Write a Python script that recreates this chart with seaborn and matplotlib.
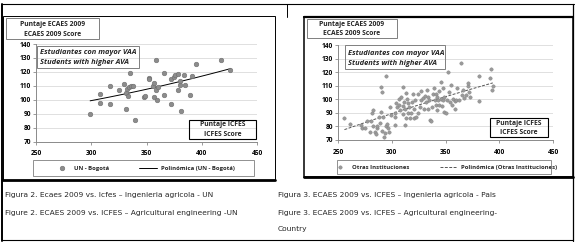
import numpy as np
import pandas as pd
import matplotlib
matplotlib.use("Agg")
import matplotlib.pyplot as plt
from matplotlib.patches import Rectangle
from matplotlib.lines import Line2D
import seaborn as sns

# ---------------- data ----------------
un_icfes = [299, 308, 308, 317, 317, 325.5, 330, 331, 332, 334, 335, 331.5, 336, 338, 333,
            340, 348, 349, 352, 352.5, 355.5, 358.5, 357, 359, 357, 359.5, 360.5, 366, 366,
            372, 372.5, 374.5, 376, 378.5, 378.5, 380, 380, 381.5, 383.5, 385, 389, 391.5,
            395, 417.5, 426]
un_ecaes = [90, 104, 98, 97, 110, 107, 111, 104.5, 108, 109, 119, 93, 110, 110, 103,
            85.5, 102, 103, 115.5, 115, 110, 128.5, 112, 107, 102, 100, 109, 103.5, 119.5,
            97, 115, 116.5, 118, 118.5, 107, 110.5, 113.5, 92, 117.5, 110.5, 103.5, 117,
            125.5, 128.5, 121]

ot_icfes = [256, 261, 271, 272, 275, 277, 279.5, 280.5, 281.5, 282.6, 283, 284, 285, 286,
            286.5, 288, 289, 289.6, 290, 290.5, 291, 292, 293, 294, 295, 295, 296, 296.5,
            297.5, 298, 299.5, 302.6, 302.6, 303, 304, 305, 306.6, 307, 308, 309, 310,
            310.4, 310.4, 311, 312, 312, 313, 313.5, 314.4, 315, 315, 316, 317, 318, 319,
            319.7, 320.6, 321, 322, 323, 324, 324.3, 326, 327, 327.4, 329, 330, 330.5, 332,
            333, 333.6, 334, 335, 336, 336.7, 337, 338, 339, 340, 340.7, 341.3, 342, 342,
            343, 343.6, 344.4, 345.4, 346, 346.6, 347.5, 348, 348.5, 349, 350.6, 351.5, 352,
            353.7, 354.6, 355, 356, 357, 358.4, 359, 360, 361, 363, 364.5, 365, 366, 367.6,
            369, 370.7, 370.7, 372, 373, 381.6, 381.6, 391, 392.5, 393, 394]
ot_ecaes = [86, 82, 81, 79, 78.6, 84, 76, 84, 89.6, 92, 80.5, 76, 74.4, 78.6,
            80, 86.7, 82.8, 91, 109, 105.6, 77, 86.7, 72, 75, 80, 117, 82, 79,
            76, 94, 88.4, 86.7, 81, 89.6, 97, 94.6, 100.5, 96, 92, 102, 95,
            89, 109, 98, 93, 81, 86, 105, 100, 97, 89.6, 94.6, 86, 89.6, 98,
            104, 86, 93, 99.5, 87, 90, 104, 94.6, 99.5, 106, 101, 93, 102.6, 98,
            107, 102, 93, 99.5, 85, 84, 94, 104, 108, 99.5, 96, 104, 102, 92,
            99.5, 106, 96, 100, 113, 95, 99.5, 108, 91, 102, 89.6, 99.5, 120,
            105.6, 98, 110.5, 96, 100.5, 99, 93, 99.5, 108, 99.5, 126.5, 103, 107, 100.7,
            103, 110, 112, 105.6, 102, 117, 99, 115.5, 122, 107, 109.5]

x_ticks = [250, 300, 350, 400, 450]
y_ticks = [70, 80, 90, 100, 110, 120, 130, 140]

un_label = "UN - Bogotá"
un_trend_label = "Polinómica (UN - Bogotá)"
ot_label = "Otras Instituciones"
ot_trend_label = "Polinómica (Otras Instituciones)"
title_lines = ["Puntaje ECAES 2009", "ECAES 2009 Score"]
note_lines = ["Estudiantes con mayor VAA", "Students with higher AVA"]
xlab_lines = ["Puntaje ICFES", "ICFES Score"]
captions_left = ["Figura 2. Ecaes 2009 vs. Icfes – Ingenieria agricola - UN",
                 "Figure 2. ECAES 2009 vs. ICFES – Agricultural engineering -UN"]
captions_right = ["Figura 3. ECAES 2009 vs. ICFES – Ingenieria agricola - Pais",
                  "Figure 3. ECAES 2009 vs. ICFES – Agricultural engineering-",
                  "Country"]

# ---------------- style ----------------
sns.set_theme(style="white")
plt.rcParams['font.family'] = ['Open Sans', 'DejaVu Sans']

W, H = 577, 242
fig = plt.figure(figsize=(W / 100, H / 100), dpi=100)
fig.patch.set_facecolor("white")


def fx(x):
    return x / W


def fy(y):
    return 1 - y / H


def rect(x0, y0, x1, y1, lw=0.8, ec="black"):
    fig.add_artist(Rectangle((fx(x0), fy(y1)), (x1 - x0) / W, (y1 - y0) / H,
                             transform=fig.transFigure, fill=False, lw=lw, ec=ec))


def line(x0, y0, x1, y1, lw=0.8, color="black"):
    fig.add_artist(Line2D([fx(x0), fx(x1)], [fy(y0), fy(y1)],
                          transform=fig.transFigure, lw=lw, color=color))


def add_axes(x0, x1, ytop, ybot):
    return fig.add_axes([fx(x0), fy(ybot), (x1 - x0) / W, (ybot - ytop) / H])


def style_axes(ax):
    ax.set_xlim(250, 450)
    ax.set_ylim(70, 140)
    ax.set_xticks(x_ticks)
    ax.set_yticks(y_ticks)
    ax.set_xticklabels([str(t) for t in x_ticks])
    ax.set_yticklabels([str(t) for t in y_ticks])
    ax.set_facecolor("white")
    ax.yaxis.grid(True, color="#dadada", lw=0.6)
    ax.xaxis.grid(False)
    ax.set_axisbelow(True)
    for s in ["top", "right"]:
        ax.spines[s].set_visible(False)
    for s in ["left", "bottom"]:
        ax.spines[s].set_color("#8a8a8a")
        ax.spines[s].set_linewidth(0.7)
    ax.tick_params(axis="both", which="both", direction="out", length=2,
                   width=0.6, color="#8a8a8a", labelsize=4.8, colors="black")
    ax.tick_params(axis="x", pad=4.2)
    ax.tick_params(axis="y", pad=1.5)
    ax.tick_params(axis="both", left=True, bottom=True)
    for lab in ax.get_xticklabels() + ax.get_yticklabels():
        lab.set_fontweight("bold")
    ax.set_xlabel("")
    ax.set_ylabel("")


def boxed_text(x0, y0, x1, y1, lines, ys, ec="#7f7f7f", lw=0.7, italic=False,
               align="center", tx=None, size=4.9):
    rect(x0, y0, x1, y1, lw=lw, ec=ec)
    for t, yy in zip(lines, ys):
        if align == "center":
            fig.text(fx((x0 + x1) / 2), fy(yy), t, ha="center", va="center",
                     fontsize=size, fontweight="bold",
                     fontstyle="italic" if italic else "normal")
        else:
            fig.text(fx(tx), fy(yy), t, ha="left", va="center",
                     fontsize=size, fontweight="bold",
                     fontstyle="italic" if italic else "normal")


# ---------------- left chart ----------------
axL = add_axes(36, 257, 44, 141.5)
dfL = pd.DataFrame({"icfes": un_icfes, "ecaes": un_ecaes})
sns.scatterplot(data=dfL, x="icfes", y="ecaes", ax=axL, color="#8c8c8c",
                edgecolor="#6e6e6e", linewidth=0.4, s=11, label=un_label, zorder=3)
sns.regplot(data=dfL, x="icfes", y="ecaes", ax=axL, order=2, ci=None, scatter=False,
            line_kws=dict(color="black", lw=0.7), label=un_trend_label)
style_axes(axL)
if axL.get_legend() is not None:
    axL.get_legend().remove()

# ---------------- right chart ----------------
axR = add_axes(338, 553, 45, 140)
dfR = pd.DataFrame({"icfes": ot_icfes, "ecaes": ot_ecaes})
sns.scatterplot(data=dfR, x="icfes", y="ecaes", ax=axR, color="#9a9a9a",
                edgecolor="#808080", linewidth=0.3, s=6, label=ot_label, zorder=3)
sns.regplot(data=dfR, x="icfes", y="ecaes", ax=axR, order=2, ci=None, scatter=False,
            line_kws=dict(color="#555555", lw=0.7, ls=(0, (3, 1.5))), label=ot_trend_label)
style_axes(axR)
if axR.get_legend() is not None:
    axR.get_legend().remove()

# ---------------- legends ----------------
for ax, (x0, y0, x1, y1) in [(axL, (33, 160, 254, 176)), (axR, (337, 160, 551, 174))]:
    rect(x0, y0, x1, y1, lw=0.6, ec="#7f7f7f")
    h, l = ax.get_legend_handles_labels()
    leg = ax.legend(h, l, loc="center",
                    bbox_to_anchor=(fx((x0 + x1) / 2), fy((y0 + y1) / 2)),
                    bbox_transform=fig.transFigure, ncol=2, frameon=False,
                    fontsize=4.3, handlelength=3.0, handletextpad=0.6,
                    columnspacing=5.0, borderpad=0.1, markerscale=1.0)
    for t in leg.get_texts():
        t.set_fontweight("bold")

# ---------------- text boxes ----------------
boxed_text(6, 18, 99, 39, title_lines, [24.5, 34])
boxed_text(307, 19, 397, 38, title_lines, [24.5, 33.5])
boxed_text(37, 46, 139, 68, note_lines, [52.5, 62.5], italic=True, align="left", tx=40, size=5.4)
boxed_text(345, 45, 445, 69, note_lines, [53.5, 63.5], italic=True, align="left", tx=348, size=5.4)
boxed_text(189, 120, 256, 139, xlab_lines, [125, 134.5], ec="black", lw=0.8)
boxed_text(490, 118, 548, 137, xlab_lines, [123.5, 132.5], ec="black", lw=0.8)

# ---------------- frames ----------------
line(2, 4, 574, 4, lw=0.8)          # top outer line
line(2, 4, 2, 241, lw=1.4)          # left outer
line(573, 4, 573, 241, lw=0.9)      # right outer
line(2, 240, 573, 240, lw=0.8)      # bottom outer
rect(3, 16, 275, 180, lw=0.7)       # left chart frame
line(2, 180, 275, 180, lw=2.0)
line(287, 4, 287, 17, lw=0.7)
rect(304, 17, 573, 177, lw=1.1)     # right chart frame
line(304, 17, 573, 17, lw=1.6)
line(304, 177, 573, 177, lw=2.0)

# ---------------- captions ----------------
cap_font = ["DejaVu Sans"]
for t, yy in zip(captions_left, [195, 213]):
    fig.text(fx(5), fy(yy), t, ha="left", va="center", fontsize=5.4, family=cap_font)
for t, yy in zip(captions_right, [195, 213, 229]):
    fig.text(fx(278), fy(yy), t, ha="left", va="center", fontsize=5.4, family=cap_font)

fig.savefig("out.png", dpi=100)
